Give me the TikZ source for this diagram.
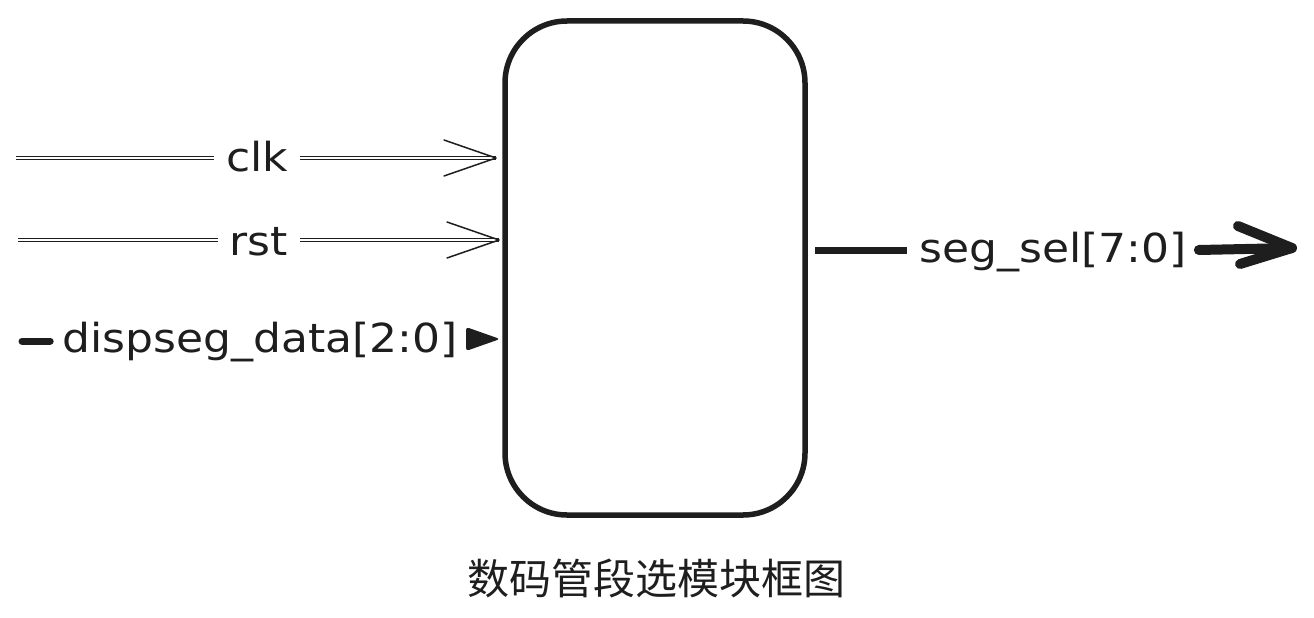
\documentclass[tikz,border=0pt]{standalone}
\usepackage{fontspec}
\newfontfamily\hand[FakeStretch=1.1]{DejaVu Sans}
\newfontfamily\cjk{Noto Sans CJK SC}
\usetikzlibrary{calc}
\definecolor{ink}{HTML}{1E1E1E}
\begin{document}
\begin{tikzpicture}[x=1pt,y=-1pt,
  port/.style={font=\hand\fontsize{40}{48}\selectfont, text=ink,
    inner xsep=12pt, inner ysep=0pt, anchor=base},
  wire/.style={draw=ink, line width=1.2pt, double=white, double distance=1.6pt},
  barb/.style={draw=ink, line width=1.5pt, line join=round, line cap=round},
  bus/.style={draw=ink, line width=7pt},
  busout/.style={draw=ink, line width=10pt, line cap=round, line join=round},
  ]
\useasboundingbox (0,0) rectangle (1314,618);

% module body
\node[draw=ink, line width=5.5pt, rounded corners=62pt, minimum width=300pt,
  minimum height=494pt, inner sep=0pt] (box) at (655,268) {};

% port labels
\node[port] (clk)  at (257,171) {clk};
\node[port] (rst)  at (259,255) {rst};
\node[port] (data) at (260,352) {dispseg\_data[2:0]};
\node[port] (sel)  at (1053,262) {seg\_sel[7:0]};

% wire ends
\coordinate (clkin)   at (16,158);
\coordinate (clktip)  at (496,158);
\coordinate (rstin)   at (18,240);
\coordinate (rsttip)  at (499,240);
\coordinate (datain)  at (22,341);
\coordinate (datatip) at (500,339);
\coordinate (selout)  at (815,250);
\coordinate (seltip)  at (1292,248);

% clk
\draw[wire] (clkin) -- (clkin -| clk.west);
\draw[wire] (clkin -| clk.east) -- (clktip);
\draw[barb] ($(clktip)+(-52,-18)$) -- (clktip) -- ($(clktip)+(-52,18)$);

% rst
\draw[wire] (rstin) -- (rstin -| rst.west);
\draw[wire] (rstin -| rst.east) -- (rsttip);
\draw[barb] ($(rsttip)+(-52,-18)$) -- (rsttip) -- ($(rsttip)+(-52,18)$);

% dispseg_data
\draw[bus, line cap=round] (datain) -- (datain -| data.west);
\fill[ink, rounded corners=3pt] ($(datatip)+(-34,-12)$) -- (datatip) -- ($(datatip)+(-34,12)$) -- cycle;

% seg_sel
\draw[bus] (selout) -- (selout -| sel.west);
\draw[busout] (selout -| sel.east) -- (seltip);
\draw[busout] ($(seltip)+(-54,-22)$) -- (seltip) -- ($(seltip)+(-52,16)$);

% caption
\node[font=\cjk\fontsize{42}{50}\selectfont, text=ink, inner sep=0pt] (cap) at (656,578) {数码管段选模块框图};
\end{tikzpicture}
\end{document}
